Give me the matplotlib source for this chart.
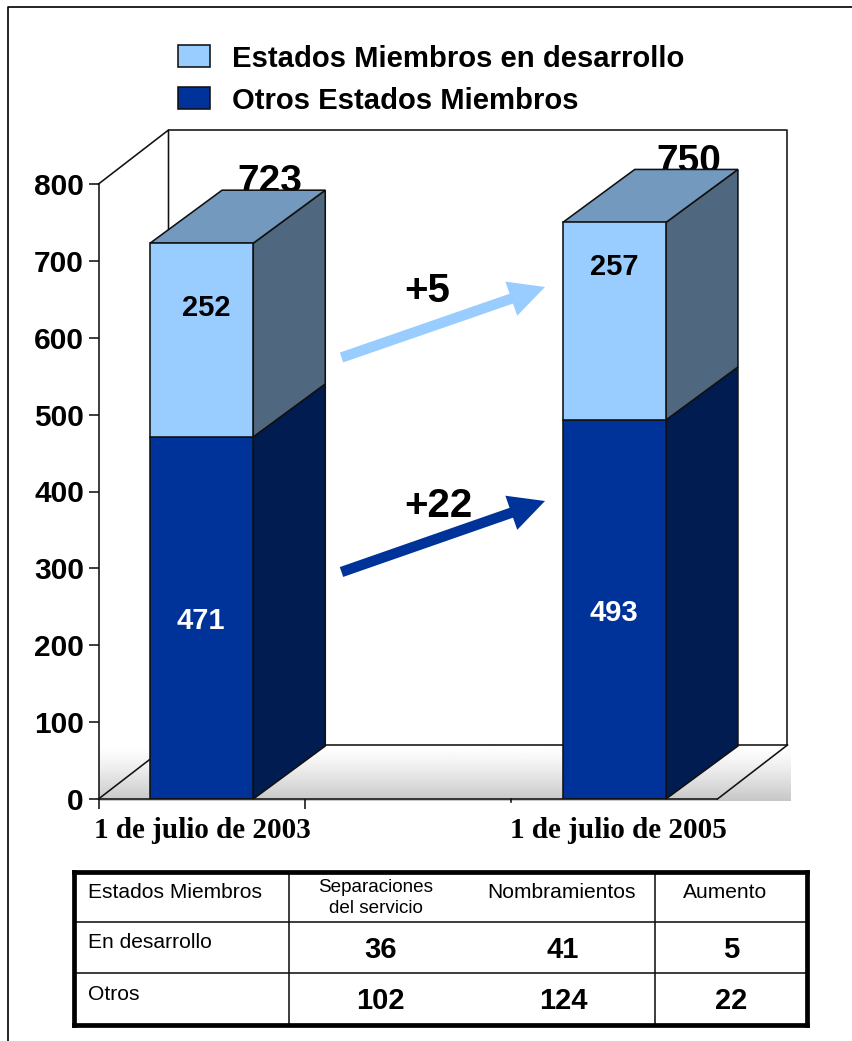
import numpy as np
import matplotlib
matplotlib.use('Agg')
import matplotlib.pyplot as plt
from matplotlib.patches import Polygon, Rectangle

# chart data
categories = ['1 de julio de 2003', '1 de julio de 2005']
otros = [471, 493]
desarrollo = [252, 257]
totals = [723, 750]
y_ticks = [0, 100, 200, 300, 400, 500, 600, 700, 800]
changes = ['+5', '+22']

# table data
table_header = ['Estados Miembros', 'Separaciones\ndel servicio', 'Nombramientos', 'Aumento']
table_rows = ['En desarrollo', 'Otros']
separaciones = [36, 102]
nombramientos = [41, 124]
aumento = [5, 22]

legend_labels = ['Estados Miembros en desarrollo', 'Otros Estados Miembros']

LIGHT = '#99CCFF'
LIGHT_SIDE = '#4F6880'
LIGHT_TOP = '#7399BF'
DARK = '#003399'
DARK_SIDE = '#001C50'
EDGE = '#111111'
LW = 1.15

W, H = 852, 1041
plt.rcParams['font.family'] = ['Liberation Sans', 'DejaVu Sans']

fig = plt.figure(figsize=(W / 100, H / 100), dpi=100)


# pixel position in the picture to figure fraction
def px(x, y):
    return x / W, 1 - y / H


def add_axes_px(x0, y0, x1, y1):
    return fig.add_axes([x0 / W, 1 - y1 / H, (x1 - x0) / W, (y1 - y0) / H])


# page frame (top and left only)
fig.add_artist(plt.Line2D([8 / W, 8 / W, 1], [0, 1 - 6.5 / H, 1 - 6.5 / H], color='black', lw=1.2))

# main axes
ax = add_axes_px(98.5, 184, 717.5, 799)
ax.set_xlim(-0.5, 2.5)
ax.set_ylim(0, 800)
ax.patch.set_visible(False)
for side in ['top', 'right']:
    ax.spines[side].set_visible(False)
for side in ['left', 'bottom']:
    ax.spines[side].set_color(EDGE)
    ax.spines[side].set_linewidth(LW)
    ax.spines[side].set_zorder(6)

x_pos = [0, 2]
bar_w = 0.5
px_x = (717.5 - 98.5) / 3
px_y = (799 - 184) / 800
wall_dx, wall_dy = 70 / px_x, 54 / px_y
bar_dx, bar_dy = 72 / px_x, 53 / px_y
x0, x1 = -0.5, 2.5
y_top = 800
back_l, back_r = x0 + wall_dx, x1 + wall_dx

# floor gradient, runs slightly past the floor on the right and bottom
gradient = 1.0 - 0.22 * np.linspace(0, 1, 64).reshape(-1, 1) ** 1.3
ax.imshow(gradient, cmap='gray', vmin=0, vmax=1, aspect='auto', zorder=0, clip_on=False,
          extent=(x0, x1 + 73 / px_x, -2 / px_y, wall_dy))
ax.set_xlim(x0, x1)
ax.set_ylim(0, 800)

# back walls and floor outline
wall_kw = dict(color=EDGE, lw=LW, clip_on=False, zorder=1)
ax.plot([x0, back_l, back_l], [y_top, y_top + wall_dy, wall_dy], **wall_kw)
ax.plot([back_l, back_r, back_r, back_l], [y_top + wall_dy, y_top + wall_dy, wall_dy, wall_dy], **wall_kw)
ax.plot([x0, back_l], [0, wall_dy], **wall_kw)
ax.plot([x1, back_r], [0, wall_dy], **wall_kw)

# totals sit behind the top of the bars
for x, total, shift in zip(x_pos, totals, [0.33, 0.36]):
    ax.text(x + shift, total + bar_dy - 3, str(total), ha='center', va='baseline', fontsize=28, fontweight='bold',
            zorder=1.5, clip_on=False)

# front faces
ax.bar(x_pos, otros, width=bar_w, color=DARK, edgecolor=EDGE, linewidth=LW, zorder=3)
ax.bar(x_pos, desarrollo, width=bar_w, bottom=otros, color=LIGHT, edgecolor=EDGE, linewidth=LW, zorder=3)

# side and top faces
for x, low, high in zip(x_pos, otros, totals):
    r = x + bar_w / 2
    l = x - bar_w / 2
    faces = [
        ([(r, 0), (r + bar_dx, bar_dy), (r + bar_dx, low + bar_dy), (r, low)], DARK_SIDE),
        ([(r, low), (r + bar_dx, low + bar_dy), (r + bar_dx, high + bar_dy), (r, high)], LIGHT_SIDE),
        ([(l, high), (l + bar_dx, high + bar_dy), (r + bar_dx, high + bar_dy), (r, high)], LIGHT_TOP),
    ]
    for pts, col in faces:
        ax.add_patch(Polygon(pts, closed=True, facecolor=col, edgecolor=EDGE, linewidth=LW, zorder=2.5,
                             clip_on=False))

# value labels, the light ones are not centred in their segment
for i, (x, low, high) in enumerate(zip(x_pos, otros, desarrollo)):
    ax.text(x + [-0.005, -0.002][i], low / 2 - [4, 5][i], str(low), ha='center', va='center', color='white',
            fontsize=21, fontweight='bold', zorder=4)
    ax.text(x + [0.022, -0.002][i], low + high / 2 + [42, 70][i], str(high), ha='center', va='center',
            color='black', fontsize=21, fontweight='bold', zorder=4)

# axes ticks
ax.set_yticks(y_ticks)
ax.tick_params(axis='y', length=7.5, width=LW, color=EDGE, pad=3)
for lab in ax.get_yticklabels():
    lab.set_fontsize(21.5)
    lab.set_fontweight('bold')
ax.set_xticks(x_pos)
ax.set_xticklabels([])
ax.tick_params(axis='x', which='major', length=0)
for x, label, shift in zip(x_pos, categories, [0.002, 0.019]):
    ax.text(x + shift, -32 / px_y, label, ha='center', va='center', family=['Liberation Serif'], fontsize=21,
            fontweight='bold', clip_on=False)
ax.set_xticks([-0.5, 0.5], minor=True)
ax.tick_params(axis='x', which='minor', length=7.5, width=LW, color=EDGE)
ax.plot([1.5, 1.5], [0, -3 / px_y], color=EDGE, lw=LW, clip_on=False)

# change arrows
arrow_cols = [LIGHT, DARK]
arrow_y = [(357.5, 287), (572, 501)]
label_y = [291, 506]
for text, col, (y_a, y_b), y_l in zip(changes, arrow_cols, arrow_y, label_y):
    fig.add_artist(plt.Annotation(
        '', xy=px(545, y_b), xytext=px(341.5, y_a), xycoords='figure fraction', textcoords='figure fraction',
        arrowprops=dict(facecolor=col, edgecolor='none', width=7.5, headwidth=26, headlength=25.7, shrink=0)))
    fig.text(*px(404.5, y_l), text, ha='left', va='center', fontsize=29, fontweight='bold')

# legend
for label, col, y_leg, y_txt in zip(legend_labels, [LIGHT, DARK], [56, 98], [59, 101]):
    fig.add_artist(Rectangle(px(178, y_leg + 11), 32 / W, 22 / H, transform=fig.transFigure, facecolor=col,
                             edgecolor=EDGE, linewidth=LW))
    fig.text(*px(232, y_txt), label, ha='left', va='center', fontsize=21.03, fontweight='bold')

# table, in picture pixels
tax = add_axes_px(74, 872, 806.5, 1025)
tax.set_xlim(74, 806.5)
tax.set_ylim(1025, 872)
tax.set_xticks([])
tax.set_yticks([])
for spine in tax.spines.values():
    spine.set_linewidth(3.4)
    spine.set_color('black')
tax.vlines([289, 655], 872, 1025, color='#111111', lw=LW)
tax.hlines([922, 973], 74, 806.5, color='#111111', lw=LW)

tax.text(88, 892, table_header[0], ha='left', va='center', fontsize=15.1)
tax.text(376, 898, table_header[1], ha='center', va='center', fontsize=13.6, linespacing=1.3)
tax.text(561.5, 892, table_header[2], ha='center', va='center', fontsize=15.1)
tax.text(725.5, 892, table_header[3], ha='center', va='center', fontsize=15.1)
for name, a, b, c, y_row, y_name in zip(table_rows, separaciones, nombramientos, aumento, [950, 1001], [942, 995]):
    tax.text(88, y_name, name, ha='left', va='center', fontsize=15.1)
    tax.text(380.5, y_row, str(a), ha='center', va='center', fontsize=21, fontweight='bold')
    tax.text(563, y_row, str(b), ha='center', va='center', fontsize=21, fontweight='bold')
    tax.text(731, y_row, str(c), ha='center', va='center', fontsize=21, fontweight='bold')

fig.savefig('out.png', dpi=100)
